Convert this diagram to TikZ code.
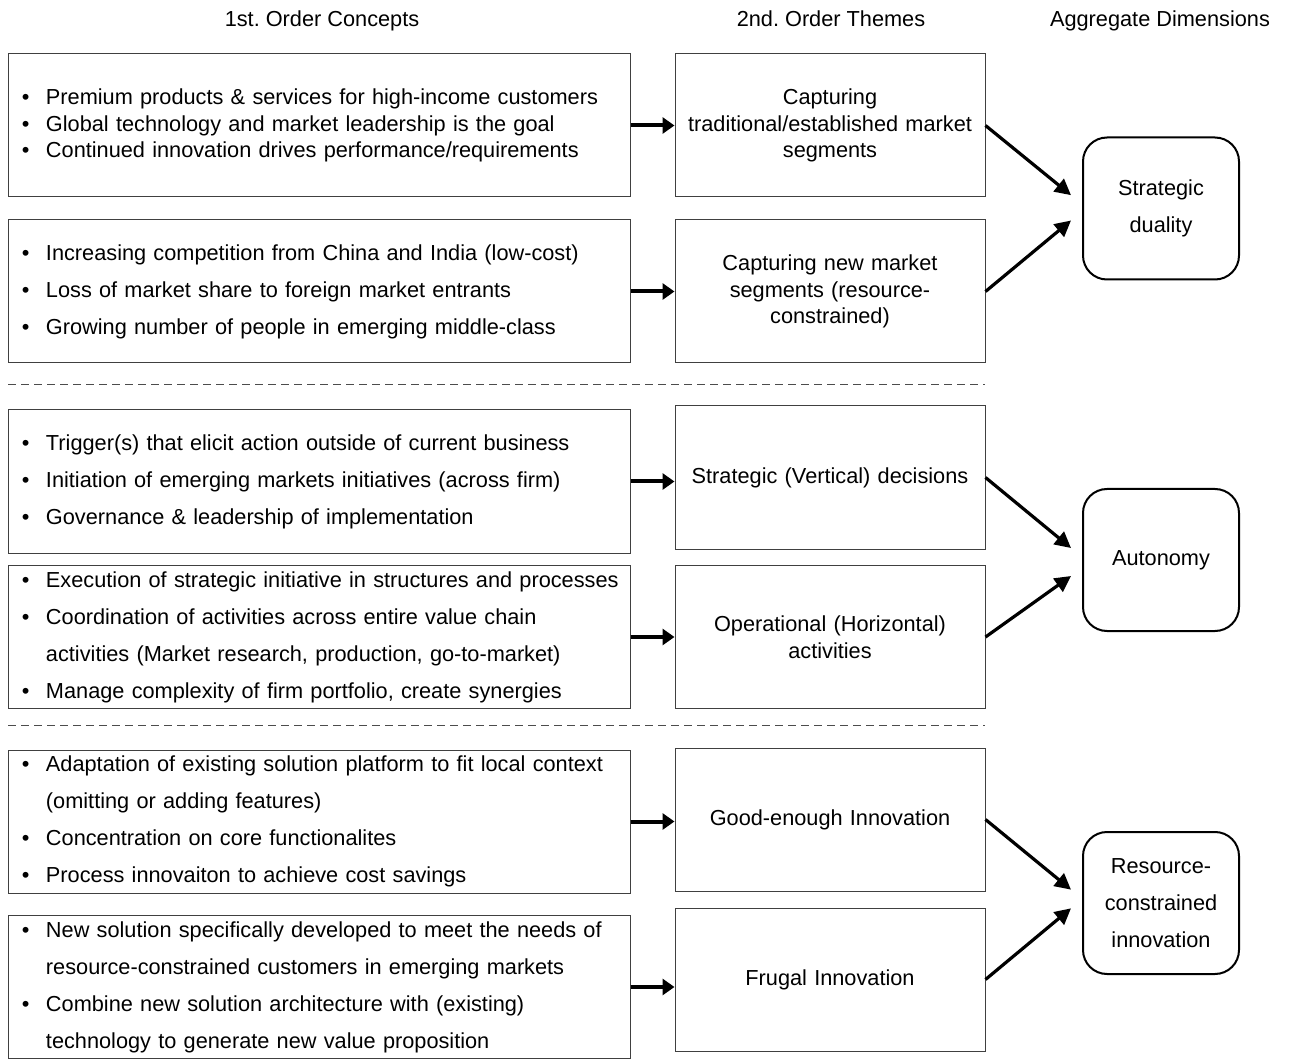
\documentclass[tikz,border=0pt]{standalone}
\usepackage{fontspec}
\setmainfont{Liberation Sans}
\usetikzlibrary{arrows.meta}
\frenchspacing

\newcommand{\itm}{\hspace*{8.25pt}\makebox[18pt][l]{\textbullet}}
\newcommand{\cnt}{\hspace*{26.25pt}}

\tikzset{
  concept/.style={draw=black!75,line width=0.75pt,minimum width=466.5pt,minimum height=107.25pt,
    text width=462pt,align=left,inner sep=0pt,font=\fontsize{16.3}{27.75}\selectfont},
  theme/.style={draw=black!75,line width=0.75pt,minimum width=232.5pt,minimum height=107.25pt,
    text width=225pt,align=center,inner sep=0pt,font=\fontsize{16.3}{19.9}\selectfont},
  dimension/.style={draw,line width=1.5pt,rounded corners=18pt,minimum width=117pt,minimum height=106.5pt,
    text width=105pt,align=center,inner sep=0pt,font=\fontsize{16.3}{27.75}\selectfont},
  feed/.style={draw,line width=3pt,-{Triangle[length=9pt,width=12pt]}},
  merge/.style={draw,line width=2.4pt,-{Triangle[length=12pt,width=12pt]}},
  divider/.style={draw=black!70,line width=0.75pt,dash pattern=on 6pt off 3.75pt}
}

\begin{document}
\begin{tikzpicture}[x=0.75pt,y=-0.75pt]
\useasboundingbox (0,0) rectangle (1290,1059);

  \begin{scope}[every node/.style={anchor=base,font=\fontsize{16.3}{20}\selectfont}]
    \node (h1) at (322,27) {1st. Order Concepts};
    \node (h2) at (831,27) {2nd. Order Themes};
    \node (h3) at (1160,27) {Aggregate Dimensions};
  \end{scope}

  % 1st order concepts
  \node[concept,font=\fontsize{16.3}{19.9}\selectfont] (c1) at (319,125.5) {%
    \itm Premium products \& services for high-income customers\\
    \itm Global technology and market leadership is the goal\\
    \itm Continued innovation drives performance/requirements};
  \node[concept] (c2) at (319,291.5) {%
    \itm Increasing competition from China and India (low-cost)\\
    \itm Loss of market share to foreign market entrants\\
    \itm Growing number of people in emerging middle-class};
  \node[concept] (c3) at (319,481.5) {%
    \itm Trigger(s) that elicit action outside of current business\\
    \itm Initiation of emerging markets initiatives (across firm)\\
    \itm Governance \& leadership of implementation};
  \node[concept] (c4) at (319,637) {%
    \itm Execution of strategic initiative in structures and processes\\
    \itm Coordination of activities across entire value chain\\
    \cnt activities (Market research, production, go-to-market)\\
    \itm Manage complexity of firm portfolio, create synergies};
  \node[concept] (c5) at (319,821.5) {%
    \itm Adaptation of existing solution platform to fit local context\\
    \cnt (omitting or adding features)\\
    \itm Concentration on core functionalites\\
    \itm Process innovaiton to achieve cost savings};
  \node[concept] (c6) at (319,987) {%
    \itm New solution specifically developed to meet the needs of\\
    \cnt resource-constrained customers in emerging markets\\
    \itm Combine new solution architecture with (existing)\\
    \cnt technology to generate new value proposition};

  % 2nd order themes
  \node[theme] (t1) at (830,125.5) {Capturing\\ traditional/established market\\ segments};
  \node[theme] (t2) at (830,291.5) {Capturing new market\\ segments (resource-\\ constrained)};
  \node[theme] (t3) at (830,477.5) {Strategic (Vertical) decisions};
  \node[theme] (t4) at (830,637) {Operational (Horizontal)\\ activities};
  \node[theme] (t5) at (830,819.5) {Good-enough Innovation};
  \node[theme] (t6) at (830,979.5) {Frugal Innovation};

  % aggregate dimensions
  \node[dimension] (d1) at (1161,208.5) {Strategic\\ duality};
  \node[dimension] (d2) at (1161,560) {Autonomy};
  \node[dimension] (d3) at (1161,903) {Resource-\\ constrained\\ innovation};

  \path[divider] (8,385) -- (985,385);
  \path[divider] (8,725) -- (985,725);

  \foreach \i in {1,...,6}
    \path[feed] (c\i.east) -- (c\i.east -| t\i.west);

  \path[merge] (t1.east) -- ([xshift=-8.25pt,yshift=10pt]d1.west);
  \path[merge] (t2.east) -- ([xshift=-8.25pt,yshift=-9pt]d1.west);
  \path[merge] (t3.east) -- ([xshift=-8.25pt,yshift=9pt]d2.west);
  \path[merge] (t4.east) -- ([xshift=-8.25pt,yshift=-12pt]d2.west);
  \path[merge] (t5.east) -- ([xshift=-8.25pt,yshift=10pt]d3.west);
  \path[merge] (t6.east) -- ([xshift=-8.25pt,yshift=-4pt]d3.west);

\end{tikzpicture}
\end{document}
